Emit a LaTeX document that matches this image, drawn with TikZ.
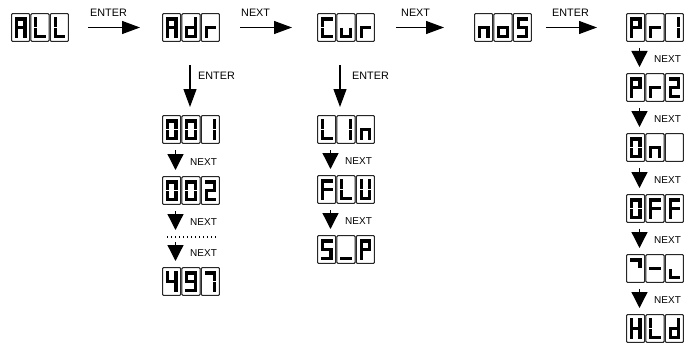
\documentclass[tikz,border=0pt]{standalone}
\usepackage{fontspec}
\setmainfont{Liberation Sans}
\usetikzlibrary{arrows.meta,calc}

\tikzset{
  seg/.style={line width=3.3pt, line cap=rect, black},
  vseg/.style={line width=3.3pt, line cap=butt, black},
  cellbox/.style={draw=black!85, line width=1.1pt, rounded corners=1pt},
  dispbox/.style={minimum width=58pt, minimum height=29pt, inner sep=0pt, outer sep=0pt, anchor=north west},
  lbl/.style={font=\fontsize{10.8}{12}\selectfont, inner sep=0pt},
  nlbl/.style={font=\fontsize{10}{12}\selectfont, inner sep=0pt, anchor=west},
  flow/.style={line width=1.1pt, -{Triangle[length=18pt,width=13pt]}},
  nextarr/.style={line width=1.3pt, -{Triangle[length=16pt,width=16pt]}},
  dotline/.style={line width=1.2pt, dash pattern=on 1.2pt off 2.8pt}
}

% segments (cell origin top-left, y downwards)
\newcommand\sgA{\draw[seg] (5.5,6)--(14,6);}
\newcommand\sgB{\draw[vseg] (14,4.35)--(14,14.1);}
\newcommand\sgC{\draw[vseg] (14,15.0)--(14,25.15);}
\newcommand\sgD{\draw[seg] (5.5,23.5)--(14,23.5);}
\newcommand\sgE{\draw[vseg] (5.5,15.0)--(5.5,25.15);}
\newcommand\sgF{\draw[vseg] (5.5,4.35)--(5.5,14.1);}
\newcommand\sgG{\draw[seg] (5.5,14.55)--(14,14.55);}

% glyphs
\newcommand\dgA{\sgA\sgB\sgC\sgE\sgF\sgG}
\newcommand\dgL{\sgD\sgE\sgF}
\newcommand\dgd{\sgB\sgC\sgD\sgE\sgG}
\newcommand\dgr{\sgE\sgG}
\newcommand\dgC{\sgA\sgD\sgE\sgF}
\newcommand\dgu{\sgC\sgD\sgE}
\newcommand\dgn{\sgC\sgE\sgG}
\newcommand\dgo{\sgC\sgD\sgE\sgG}
\newcommand\dgS{\sgA\sgC\sgD\sgF\sgG}
\newcommand\dgP{\sgA\sgB\sgE\sgF\sgG}
\newcommand\dgone{\sgB\sgC}
\newcommand\dgtwo{\sgA\sgB\sgD\sgE\sgG}
\newcommand\dgzero{\sgA\sgB\sgC\sgD\sgE\sgF}
\newcommand\dgfour{\sgB\sgC\sgF\sgG}
\newcommand\dgnine{\sgA\sgB\sgC\sgD\sgF\sgG}
\newcommand\dgseven{\sgA\sgB\sgC}
\newcommand\dgF{\sgA\sgE\sgF\sgG}
\newcommand\dgU{\sgB\sgC\sgD\sgE\sgF}
\newcommand\dgus{\sgD}
\newcommand\dgH{\sgB\sgC\sgE\sgF\sgG}
\newcommand\dgdash{\sgG}
\newcommand\dghook{\sgA\sgB}
\newcommand\dgcorner{\sgD\sgE}

% display: name, x, y (top-left), three glyphs
\newcommand\disp[6]{%
  \node[dispbox] (#1) at (#2,#3) {};
  \begin{scope}[shift={(#1.north west)}]
    \foreach \i in {0,1,2}
      \draw[cellbox] (\i*19.333+0.6,0.6) rectangle (\i*19.333+18.733,28.4);
    \begin{scope}[xshift=0pt] #4 \end{scope}
    \begin{scope}[xshift=19.333pt] #5 \end{scope}
    \begin{scope}[xshift=38.667pt] #6 \end{scope}
  \end{scope}}

\begin{document}
\begin{tikzpicture}[x={(1pt,0)}, y={(0,-1pt)}]
\useasboundingbox (0,0) rectangle (688,345);

% top row
\disp{ALL}{11}{13}{\dgA}{\dgL}{\dgL}
\disp{Adr}{162}{13}{\dgA}{\dgd}{\dgr}
\disp{Cur}{317}{13}{\dgC}{\dgu}{\dgr}
\disp{noS}{474}{13}{\dgn}{\dgo}{\dgS}
\disp{Pr1}{626}{13}{\dgP}{\dgr}{\dgone}

% Adr column
\disp{a001}{162}{115}{\dgzero}{\dgzero}{\dgone}
\disp{a002}{162}{176}{\dgzero}{\dgzero}{\dgtwo}
\disp{a497}{162}{267}{\dgfour}{\dgnine}{\dgseven}

% Cur column
\disp{L1n}{317}{115}{\dgL}{\dgone}{\dgn}
\disp{FLU}{317}{175}{\dgF}{\dgL}{\dgU}
\disp{SP}{317}{235}{\dgS}{\dgus}{\dgP}

% right column
\disp{Pr2}{626}{73}{\dgP}{\dgr}{\dgtwo}
\disp{On}{626}{133}{\dgzero}{\dgn}{}
\disp{OFF}{626}{194}{\dgzero}{\dgF}{\dgF}
\disp{Sev}{626}{254}{\dghook}{\dgdash}{\dgcorner}
\disp{HLd}{626}{314}{\dgH}{\dgL}{\dgd}

% top horizontal arrows
\draw[flow, shorten <=19pt, shorten >=22pt] (ALL.east) -- (Adr.west);
\draw[flow, shorten <=20pt, shorten >=25pt] (Adr.east) -- (Cur.west);
\draw[flow, shorten <=21pt, shorten >=30pt] (Cur.east) -- (noS.west);
\draw[flow, shorten <=14pt, shorten >=29pt] (noS.east) -- (Pr1.west);
\node[lbl, anchor=west] (t1) at ($(ALL.east)+(21,-14.5)$) {ENTER};
\node[lbl, anchor=west] (t2) at ($(Adr.east)+(21,-14.5)$) {NEXT};
\node[lbl, anchor=west] (t3) at ($(Cur.east)+(26,-14.5)$) {NEXT};
\node[lbl, anchor=west] (t4) at ($(noS.east)+(20,-14.5)$) {ENTER};

% vertical ENTER arrows
\draw[flow] ($(Adr.south)+(-1,23)$) -- ($(a001.north)+(-1,-8)$);
\draw[flow] ($(Cur.south)+(-6,23)$) -- ($(L1n.north)+(-6,-8)$);
\node[lbl, anchor=west] (v1) at ($(Adr.south)+(7,34)$) {ENTER};
\node[lbl, anchor=west] (v2) at ($(Cur.south)+(6,34)$) {ENTER};

% NEXT arrows in columns
\foreach \a/\b/\n in {a001/a002/na1, L1n/FLU/nc1, FLU/SP/nc2,
                      Pr1/Pr2/nr1, Pr2/On/nr2, On/OFF/nr3, OFF/Sev/nr4, Sev/HLd/nr5} {
  \draw[nextarr] ($(\a.south west)+(13.5,6)$) -- ($(\b.north west)+(13.5,-6)$);
  \node[nlbl] (\n) at ($(\b.north west)+(28,-14)$) {NEXT};
}

% dotted continuation in Adr column
\coordinate (d1) at ($(a002.south west)+(13.5,6)$);
\coordinate (d2) at ($(a002.south west)+(13.5,25)$);
\coordinate (d3) at ($(a497.north west)+(13.5,-25)$);
\coordinate (d4) at ($(a497.north west)+(13.5,-6)$);
\coordinate (dl) at ($(a002.south west)+(5,32)$);
\coordinate (dr) at ($(a002.south west)+(54,32)$);
\draw[nextarr] (d1) -- (d2);
\node[nlbl] (na2) at ($(a002.south west)+(28,17)$) {NEXT};
\draw[dotline] (dl) -- (dr);
\draw[nextarr] (d3) -- (d4);
\node[nlbl] (na3) at ($(a497.north west)+(28,-14)$) {NEXT};
\end{tikzpicture}
\end{document}
